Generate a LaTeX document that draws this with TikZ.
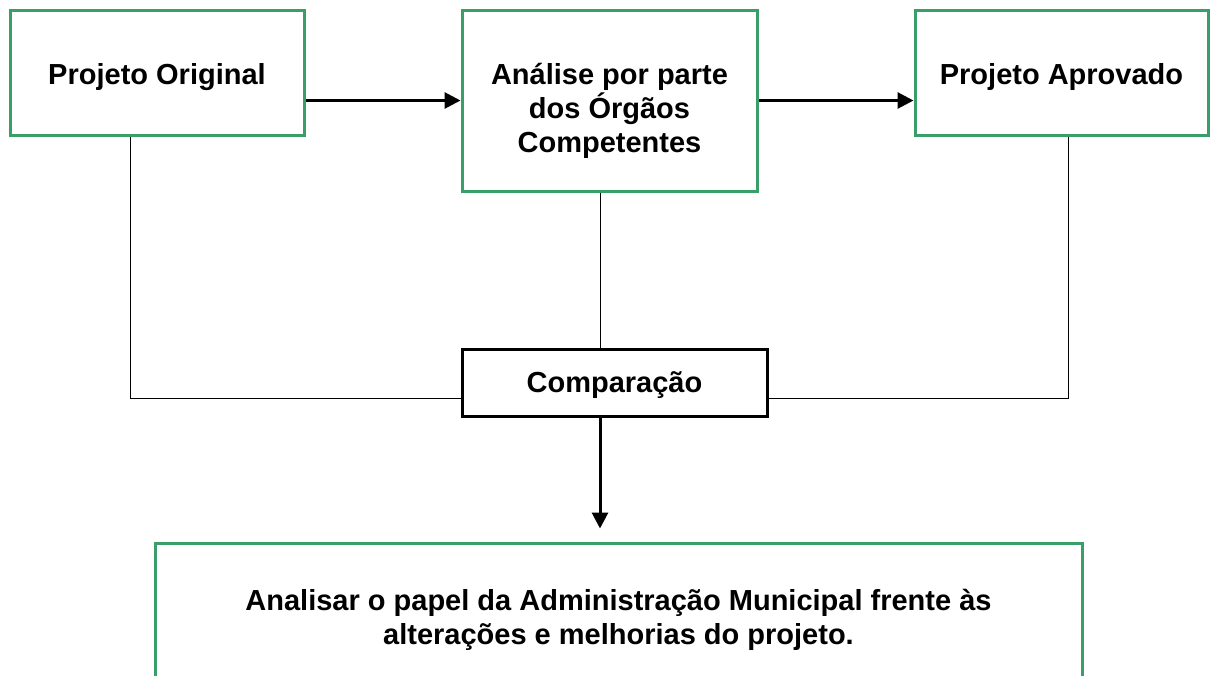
\documentclass[tikz,border=0pt]{standalone}
\usepackage{fontspec}
\setmainfont{Liberation Sans}
\usetikzlibrary{arrows.meta}
\definecolor{boxgreen}{RGB}{58,158,106}
\newcommand{\lift}[1]{\rule{0pt}{#1}}
\tikzset{
  greenbox/.style={draw=boxgreen,line width=1.5pt,align=center,inner sep=0pt,
    font=\fontsize{14.5}{17}\selectfont\bfseries},
  blackbox/.style={draw=black,line width=1.5pt,align=center,inner sep=0pt,
    font=\fontsize{14.5}{17}\selectfont\bfseries},
  thinline/.style={line width=0.5pt},
  flowarrow/.style={line width=1.5pt,-{Triangle[length=8pt,width=8pt]}}
}
\begin{document}
\begin{tikzpicture}[x=0.5pt,y=-0.5pt]
\clip (0,0) rectangle (1210,675);
\node[greenbox,minimum width=147pt,minimum height=62.5pt] (orig) at (157,72.5) {\lift{14.9pt}Projeto Original};
\node[greenbox,minimum width=147.5pt,minimum height=90.5pt] (anal) at (609.5,100.5) {\lift{21pt}Análise por parte\\dos Órgãos\\Competentes};
\node[greenbox,minimum width=146.5pt,minimum height=62.5pt] (aprov) at (1061.5,72.5) {\lift{14.9pt}Projeto Aprovado};
\node[blackbox,minimum width=152.5pt,minimum height=33.5pt] (comp) at (614.5,382.5) {\lift{12.6pt}Comparação};
\node[greenbox,minimum width=463.5pt,minimum height=74pt] (final) at (618.5,617) {\lift{13.6pt}Analisar o papel da Administração Municipal frente às\\alterações e melhorias do projeto.};
\coordinate (mid) at (600,0);
\coordinate (jl) at (130,398);
\coordinate (jr) at (1068,398);
\draw[flowarrow] (anal.west -| orig.east) -- (anal.west);
\draw[flowarrow] (anal.east) -- (anal.east -| aprov.west);
\draw[thinline] (anal.south -| mid) -- (comp.north -| mid);
\draw[thinline] (orig.south -| jl) -- (jl) -- (jl -| comp.west);
\draw[thinline] (aprov.south -| jr) -- (jr) -- (jr -| comp.east);
\draw[flowarrow,shorten >=6.5pt] (comp.south -| mid) -- (final.north -| mid);
\end{tikzpicture}
\end{document}
